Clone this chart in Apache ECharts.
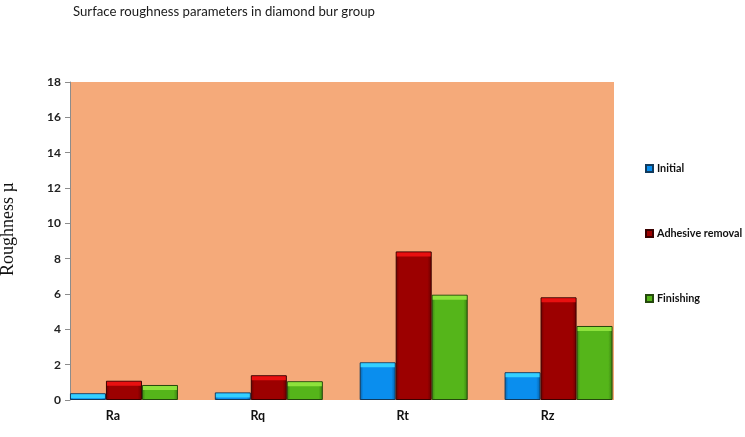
<!DOCTYPE html>
<html>
<head>
<meta charset="utf-8">
<script src="https://cdn.jsdelivr.net/npm/echarts@6/dist/echarts.min.js"></script>
<style>html,body{margin:0;padding:0;background:#fff;}#c{width:745px;height:437px;}</style>
</head>
<body>
<div id="c"></div>
<script>
var categories = ['Ra', 'Rq', 'Rt', 'Rz'];
var seriesNames = ['Initial', 'Adhesive removal', 'Finishing'];
var initialValues = [0.38, 0.43, 2.13, 1.57];
var adhesiveValues = [1.09, 1.40, 8.41, 5.81];
var finishingValues = [0.85, 1.06, 5.96, 4.19];
var yTicks = [0, 2, 4, 6, 8, 10, 12, 14, 16, 18];

var allValues = [initialValues, adhesiveValues, finishingValues];
var mainCol = ['#0a8eee', '#9c0000', '#55b51a'];
var edgeCol = ['#0660a8', '#6a0000', '#3a8210'];
var topCol = ['#35d0ff', '#e81010', '#8ee23c'];
var borderCol = ['#123a5c', '#3a0000', '#24480c'];

function grad(i) {
  return new echarts.graphic.LinearGradient(0, 0, 1, 0, [
    {offset: 0, color: edgeCol[i]},
    {offset: 0.1, color: mainCol[i]},
    {offset: 0.88, color: mainCol[i]},
    {offset: 1, color: edgeCol[i]}
  ]);
}

var series = [];
for (var i = 0; i < 3; i++) {
  series.push({
    name: seriesNames[i], type: 'bar', xAxisIndex: 1, yAxisIndex: 1,
    data: allValues[i], barWidth: 36, barGap: '0%',
    itemStyle: {color: grad(i), borderColor: borderCol[i], borderWidth: 1},
    z: 2
  });
}
for (var j = 0; j < 3; j++) {
  series.push({
    name: seriesNames[j], type: 'pictorialBar', xAxisIndex: 1, yAxisIndex: 1,
    data: allValues[j], barWidth: 36, barGap: '0%',
    symbol: 'rect', symbolSize: [34, 4], symbolPosition: 'end', symbolOffset: [0, 1],
    itemStyle: {color: topCol[j]}, z: 3, silent: true
  });
}

var chart = echarts.init(document.getElementById('c'), null, {renderer: 'canvas'});
chart.setOption({
  animation: false,
  backgroundColor: '#ffffff',
  title: {
    text: 'Surface roughness parameters in diamond bur group',
    left: 73, top: 5, padding: 0,
    textStyle: {fontFamily: 'Lato', fontSize: 13.2, fontWeight: 'normal', color: '#1a1a1a'}
  },
  legend: {
    orient: 'vertical', left: 640, top: 158, itemGap: 54,
    itemWidth: 7, itemHeight: 7, icon: 'rect',
    data: seriesNames,
    textStyle: {fontFamily: 'Lato', fontSize: 10.8, fontWeight: 'bold', color: '#111', padding: [0, 0, 0, -1]}
  },
  grid: [
    {left: 70, right: 131, top: 82, bottom: 37, show: true, backgroundColor: '#f5aa7a', borderWidth: 0, outerBoundsMode: 'none', containLabel: false},
    {left: 51.5, right: 114, top: 82, bottom: 37, outerBoundsMode: 'none', containLabel: false}
  ],
  xAxis: [
    {type: 'category', gridIndex: 0, data: categories, show: false},
    {type: 'category', gridIndex: 1, data: categories,
     axisLine: {show: false}, axisTick: {show: false},
     axisLabel: {fontFamily: 'Lato', fontSize: 12.5, fontWeight: 'bold', color: '#111', margin: 9, padding: [0, 22, 0, 0]}}
  ],
  yAxis: [
    {type: 'value', gridIndex: 0, min: yTicks[0], max: yTicks[yTicks.length - 1], interval: 2,
     name: 'Roughness µ', nameLocation: 'middle', nameGap: 53, nameRotate: 90,
     nameTextStyle: {fontFamily: 'Liberation Serif', fontSize: 18, color: '#111', padding: [0, 0, 0, 24]},
     axisLine: {show: true, lineStyle: {color: '#8c8c8c', width: 1}},
     axisTick: {show: true, length: 5, lineStyle: {color: '#8c8c8c'}},
     splitLine: {show: false},
     axisLabel: {fontFamily: 'Lato', fontSize: 12, fontWeight: 'bold', color: '#222', margin: 9}},
    {type: 'value', gridIndex: 1, min: 0, max: 18, interval: 2, show: false, splitLine: {show: false}}
  ],
  series: series
});
</script>
</body>
</html>
